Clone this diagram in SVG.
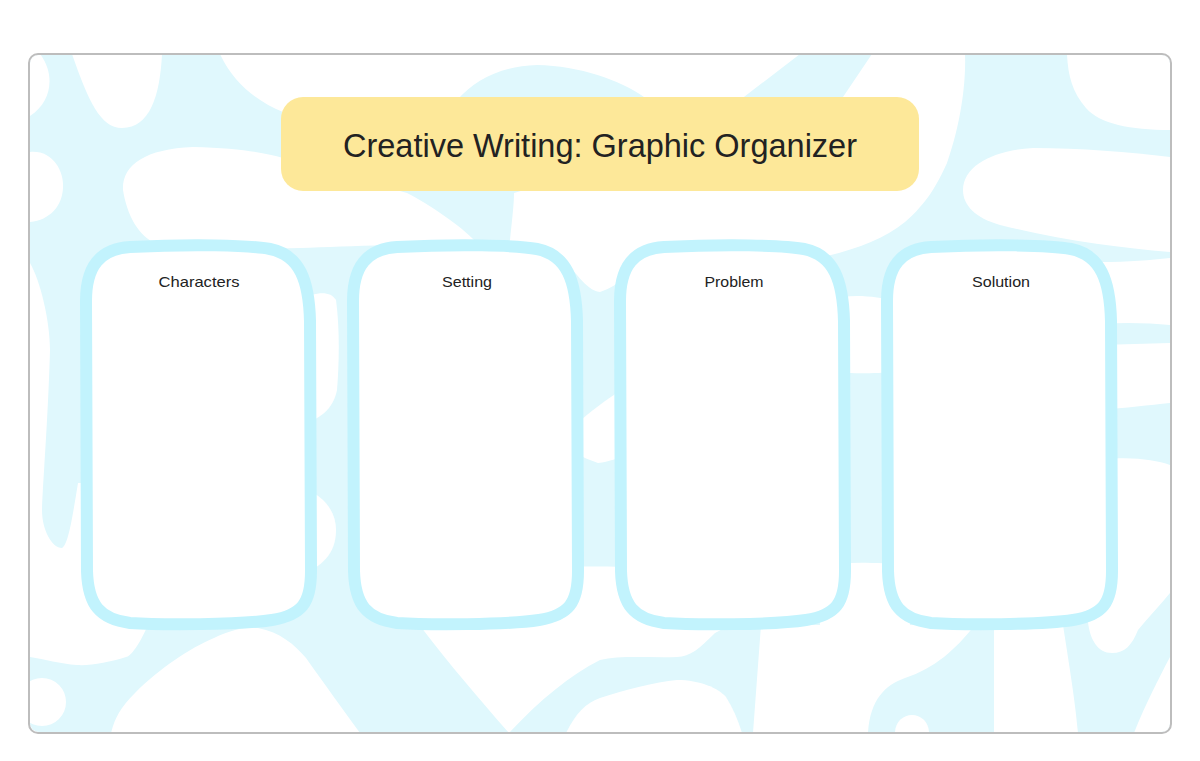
<svg xmlns="http://www.w3.org/2000/svg" width="1200" height="761" viewBox="0 0 1200 761">
<defs>
<style>
.bg{fill:#e0f8fd}
.wb{fill:#ffffff}
.frame{fill:none;stroke:#bdbdbd;stroke-width:2}
.card{fill:#ffffff;stroke:#c2f3fd;stroke-width:12}
.title-box{fill:#fde899}
.title{font-family:"Liberation Sans","Open Sans",sans-serif;font-size:34px;fill:#222222;text-anchor:middle}
.label{font-family:"Liberation Sans","Open Sans",sans-serif;font-size:15px;fill:#222222;text-anchor:middle}
</style>
<clipPath id="frameClip"><rect x="30" y="55" width="1140" height="677" rx="9"/></clipPath>
<path id="cardShape" d="M50,6 C110,3 170,4 190,8 C220,14 229,40 230,80 L231,330 C231,362 222,374 192,379 C160,384 80,384 50,382 C20,378 8,364 7,330 L6,60 C6,25 20,8 50,6 Z"/>
</defs>
<rect x="0" y="0" width="1200" height="761" fill="#ffffff"/>
<g id="background" clip-path="url(#frameClip)">
<rect class="bg" x="29" y="54" width="1142" height="679"/>
<path class="wb" d="M30,54 L40,54 C54,72 54,100 30,116 Z"/>
<path class="wb" d="M72,54 L162,54 C160,95 150,128 122,128 C100,128 88,100 72,54 Z"/>
<path class="wb" d="M30,152 C52,150 64,170 63,188 C62,206 50,220 30,222 Z"/>
<path class="wb" d="M193,147 C240,148 265,153 283,158 L407,193 C430,205 460,225 476,242 C420,244 350,246 300,248 C250,249 190,249 157,244 C138,236 127,215 123,190 C122,165 145,149 193,147 Z"/>
<path class="wb" d="M220,54 L800,54 L740,100 L644,97 C620,80 580,66 537,65 C500,66 475,80 457,100 L283,112 C258,102 234,84 220,54 Z"/>
<path class="wb" d="M872,54 L965,54 C966,80 962,120 947,163 C937,185 927,203 905,222 C885,238 860,248 827,256 L640,256 C630,270 622,285 600,292 C585,290 575,270 560,256 L510,256 L510,240 C512,220 514,205 514,193 L843,97 Z"/>
<path class="wb" d="M1067,54 L1170,54 L1170,130 C1130,130 1100,124 1086,108 C1072,92 1068,75 1067,54 Z"/>
<path class="wb" d="M1033,148 C1080,148 1130,152 1170,157 L1170,252 C1120,248 1060,240 1000,225 C975,218 963,205 963,190 C963,165 995,150 1033,148 Z"/>
<path class="wb" d="M1100,262 C1130,262 1150,260 1170,258 L1170,325 C1150,323 1125,322 1100,324 Z"/>
<path class="wb" d="M1100,345 L1170,343 L1170,403 C1150,405 1125,408 1100,410 Z"/>
<path class="wb" d="M1100,460 C1130,456 1155,460 1170,465 L1170,593 C1160,605 1148,618 1138,630 C1132,645 1125,653 1112,653 C1098,653 1090,640 1088,622 L1100,600 Z"/>
<path class="wb" d="M1134,733 C1145,705 1158,680 1170,657 L1170,733 Z"/>
<path class="wb" d="M30,263 C40,280 50,320 50,350 C48,420 43,480 42,510 C42,530 52,548 62,548 C68,545 72,520 78,483 L100,483 L150,620 C140,645 130,657 126,657 C110,662 90,666 77,665 C60,664 45,659 30,657 Z"/>
<circle class="wb" cx="42" cy="702" r="24"/>
<path class="wb" d="M111,733 C115,718 120,708 135,693 C160,668 190,648 214,638 C230,630 245,627 258,628 C280,632 295,645 306,658 C325,685 345,712 360,733 Z"/>
<path class="wb" d="M300,300 C315,292 330,290 336,300 C340,330 339,365 337,390 C334,405 325,418 300,425 Z"/>
<path class="wb" d="M300,487 C325,495 336,512 336,530 C336,548 328,565 300,575 Z"/>
<path class="wb" d="M421,620 L740,620 L715,633 C700,648 690,657 677,657 C650,658 620,655 600,660 C570,675 540,700 509,733 C480,700 450,665 421,627 Z"/>
<path class="wb" d="M566,733 C575,715 585,703 600,698 C625,690 655,682 677,680 C700,680 718,688 726,697 C733,708 738,720 742,733 Z"/>
<path class="wb" d="M575,425 C590,412 605,400 625,388 L625,457 C610,460 603,463 598,463 C590,460 582,457 575,453 Z"/>
<path class="wb" d="M761,625 L975,625 C955,650 935,668 905,678 C885,685 870,700 868,733 L753,733 Z"/>
<path class="wb" d="M895,733 C895,722 903,715 912,715 C921,715 929,722 929,733 Z"/>
<path class="wb" d="M994,625 L1063,625 C1070,670 1075,700 1078,733 L994,733 Z"/>
<path class="wb" d="M830,300 C850,294 870,295 900,302 L900,370 C880,375 850,373 830,372 Z"/>
<path class="wb" d="M820,565 C850,562 870,562 910,565 L910,630 L820,630 Z"/>
<path class="wb" d="M540,568 C570,566 610,566 660,568 L660,630 L540,630 Z"/>
</g>
<rect class="frame" x="29" y="54" width="1142" height="679" rx="9"/>
<g id="title">
<rect class="title-box" x="281" y="97" width="638" height="94" rx="22"/>
<text class="title" x="600" y="157" textLength="514" lengthAdjust="spacingAndGlyphs">Creative Writing: Graphic Organizer</text>
</g>
<g id="card-characters">
<use href="#cardShape" class="card" transform="translate(80,241)"/>
<text class="label" x="199" y="287" textLength="81" lengthAdjust="spacingAndGlyphs">Characters</text>
</g>
<g id="card-setting">
<use href="#cardShape" class="card" transform="translate(347,241)"/>
<text class="label" x="467" y="287" textLength="50" lengthAdjust="spacingAndGlyphs">Setting</text>
</g>
<g id="card-problem">
<use href="#cardShape" class="card" transform="translate(614,241)"/>
<text class="label" x="734" y="287" textLength="59" lengthAdjust="spacingAndGlyphs">Problem</text>
</g>
<g id="card-solution">
<use href="#cardShape" class="card" transform="translate(881,241)"/>
<text class="label" x="1001" y="287" textLength="58" lengthAdjust="spacingAndGlyphs">Solution</text>
</g>
<g id="connectors"></g>
</svg>
